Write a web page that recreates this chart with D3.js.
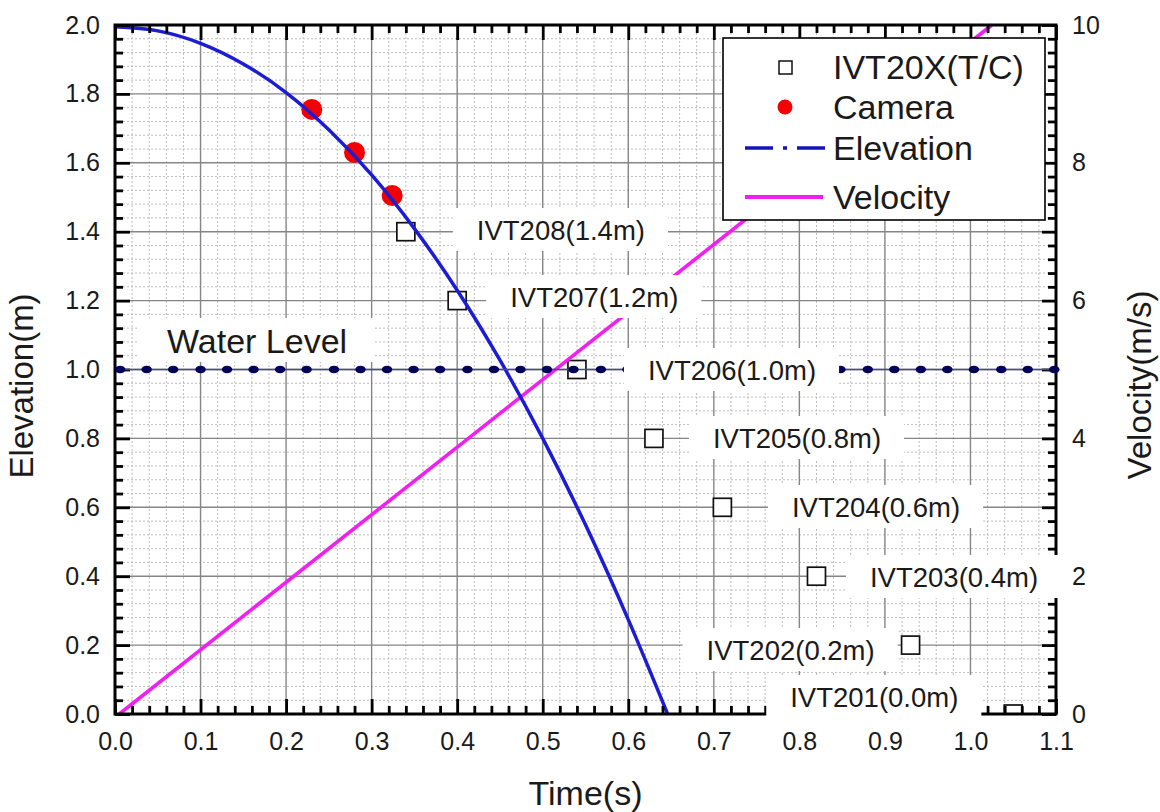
<!DOCTYPE html>
<html>
<head>
<meta charset="utf-8">
<script src="https://cdn.jsdelivr.net/npm/d3@7"></script>
<style>
  html, body { margin: 0; padding: 0; background: #fff; }
  svg { display: block; font-family: "Liberation Sans", Arial, sans-serif; }
</style>
</head>
<body>
<svg id="chart" width="1160" height="812"></svg>
<script>
// Thermocouple (T/C) arrival times and sensor elevations
const tcNames = ["IVT201", "IVT202", "IVT203", "IVT204", "IVT205", "IVT206", "IVT207", "IVT208"];
const tcTimes = [1.05, 0.93, 0.82, 0.71, 0.63, 0.54, 0.40, 0.34];
const tcElev  = [0.0, 0.2, 0.4, 0.6, 0.8, 1.0, 1.2, 1.4];

// Camera observations
const camTimes = [0.23, 0.28, 0.324];
const camElev  = [1.755, 1.63, 1.505];

// Elevation trajectory
const elevTimes  = [0, 0.05, 0.1, 0.15, 0.2, 0.25, 0.3, 0.35, 0.4, 0.45, 0.5, 0.55, 0.6, 0.646];
const elevValues = [1.995, 1.983, 1.947, 1.887, 1.804, 1.696, 1.565, 1.409, 1.230, 1.027, 0.800, 0.549, 0.274, 0.0];

// Velocity
const velTimes  = [0.005, 1.025];
const velValues = [0, 10];

// Water level samples
const waterLevel = 1.0;
const waterTimes = [0.006, 0.037, 0.068, 0.100, 0.131, 0.162, 0.193, 0.224, 0.256, 0.287, 0.318, 0.349,
                    0.380, 0.412, 0.443, 0.474, 0.505, 0.536, 0.568, 0.599, 0.630, 0.661, 0.692, 0.724,
                    0.755, 0.786, 0.817, 0.848, 0.880, 0.911, 0.942, 0.973, 1.004, 1.036, 1.067, 1.098];

// Axis ticks
const xTicks = [0, 0.1, 0.2, 0.3, 0.4, 0.5, 0.6, 0.7, 0.8, 0.9, 1.0, 1.1];
const yTicks = [0, 0.2, 0.4, 0.6, 0.8, 1.0, 1.2, 1.4, 1.6, 1.8, 2.0];
const vTicks = [0, 2, 4, 6, 8, 10];

const svg = d3.select("#chart");
const L = 115, R = 1056, T = 25, B = 714;

const x  = d3.scaleLinear().domain([0, 1.1]).range([L, R]);
const y  = d3.scaleLinear().domain([0, 2.0]).range([B, T]);
const yv = d3.scaleLinear().domain([0, 10]).range([B, T]);

const xMinor = d3.range(0, 1.1001, 0.02).filter(v => Math.abs(v * 10 - Math.round(v * 10)) > 1e-6);
const yMinor = d3.range(0, 2.0001, 0.04).filter(v => Math.abs(v * 5 - Math.round(v * 5)) > 1e-6);
const vMajor = d3.range(0, 10.001, 1);
const vMinor = d3.range(0, 10.001, 0.2).filter(v => Math.abs(v - Math.round(v)) > 1e-6);

svg.append("defs").append("clipPath").attr("id", "plotClip")
  .append("rect").attr("x", L).attr("y", T).attr("width", R - L).attr("height", B - T);

// grid
const grid = svg.append("g");
grid.selectAll(".gxm").data(xMinor).join("line")
  .attr("x1", d => x(d)).attr("x2", d => x(d)).attr("y1", T).attr("y2", B)
  .attr("stroke", "#bcbcbc").attr("stroke-width", 1).attr("stroke-dasharray", "2,2");
grid.selectAll(".gym").data(yMinor).join("line")
  .attr("y1", d => y(d)).attr("y2", d => y(d)).attr("x1", L).attr("x2", R)
  .attr("stroke", "#bcbcbc").attr("stroke-width", 1).attr("stroke-dasharray", "2,2");
grid.selectAll(".gx").data(xTicks.slice(1, -1)).join("line")
  .attr("x1", d => x(d)).attr("x2", d => x(d)).attr("y1", T).attr("y2", B)
  .attr("stroke", "#858585").attr("stroke-width", 1.4);
grid.selectAll(".gy").data(yTicks.slice(1, -1)).join("line")
  .attr("y1", d => y(d)).attr("y2", d => y(d)).attr("x1", L).attr("x2", R)
  .attr("stroke", "#858585").attr("stroke-width", 1.4);

// T/C squares
const tc = tcNames.map((n, i) => ({ name: n, t: tcTimes[i], e: tcElev[i] }));
svg.append("g").attr("clip-path", "url(#plotClip)")
  .selectAll("rect").data(tc).join("rect")
  .attr("x", d => x(d.t) - 9).attr("y", d => y(d.e) - 9)
  .attr("width", 18).attr("height", 18)
  .attr("fill", "#fff").attr("stroke", "#111").attr("stroke-width", 1.7);

// velocity line
const vel = velTimes.map((t, i) => [t, velValues[i]]);
svg.append("path").datum(vel)
  .attr("d", d3.line().x(d => x(d[0])).y(d => yv(d[1])))
  .attr("fill", "none").attr("stroke", "#f21ef2").attr("stroke-width", 3.6);

// camera points
const cam = camTimes.map((t, i) => [t, camElev[i]]);
svg.append("g").selectAll("circle").data(cam).join("circle")
  .attr("cx", d => x(d[0])).attr("cy", d => y(d[1])).attr("r", 10.5)
  .attr("fill", "#f40000");

// elevation trajectory
const elev = elevTimes.map((t, i) => [t, elevValues[i]]);
svg.append("path").datum(elev)
  .attr("d", d3.line().x(d => x(d[0])).y(d => y(d[1])).curve(d3.curveMonotoneX))
  .attr("fill", "none").attr("stroke", "#1c1cd4").attr("stroke-width", 3.5);

// frame
svg.append("rect").attr("x", L).attr("y", T).attr("width", R - L).attr("height", B - T)
  .attr("fill", "none").attr("stroke", "#000").attr("stroke-width", 3);

function styleAxis(g, size) {
  g.select(".domain").remove();
  g.selectAll(".tick line").attr("stroke", "#000").attr("stroke-width", 2.8);
  g.selectAll(".tick text").attr("fill", "#1a1a1a").attr("font-size", size)
    .attr("font-family", "'Liberation Sans', Arial, sans-serif");
}

// bottom axis
svg.append("g").attr("transform", `translate(0,${B})`)
  .call(d3.axisBottom(x).tickValues(xTicks).tickFormat(d3.format(".1f")).tickSizeInner(-15).tickSizeOuter(0).tickPadding(18))
  .call(g => styleAxis(g, 25));
svg.append("g").attr("transform", `translate(0,${B})`)
  .call(d3.axisBottom(x).tickValues(xMinor).tickFormat("").tickSizeInner(-8).tickSizeOuter(0))
  .call(g => styleAxis(g, 25));
// top axis
svg.append("g").attr("transform", `translate(0,${T})`)
  .call(d3.axisTop(x).tickValues(xTicks).tickFormat("").tickSizeInner(-15).tickSizeOuter(0))
  .call(g => styleAxis(g, 25));
svg.append("g").attr("transform", `translate(0,${T})`)
  .call(d3.axisTop(x).tickValues(xMinor).tickFormat("").tickSizeInner(-8).tickSizeOuter(0))
  .call(g => styleAxis(g, 25));
// left axis
svg.append("g").attr("transform", `translate(${L},0)`)
  .call(d3.axisLeft(y).tickValues(yTicks).tickFormat(d3.format(".1f")).tickSizeInner(-15).tickSizeOuter(0).tickPadding(15))
  .call(g => styleAxis(g, 25));
svg.append("g").attr("transform", `translate(${L},0)`)
  .call(d3.axisLeft(y).tickValues(yMinor).tickFormat("").tickSizeInner(-8).tickSizeOuter(0))
  .call(g => styleAxis(g, 25));
// right axis
svg.append("g").attr("transform", `translate(${R},0)`)
  .call(d3.axisRight(yv).tickValues(vMajor).tickFormat(d => vTicks.includes(d) ? d3.format("d")(d) : "").tickSizeInner(-14).tickSizeOuter(0).tickPadding(16))
  .call(g => styleAxis(g, 25));
svg.append("g").attr("transform", `translate(${R},0)`)
  .call(d3.axisRight(yv).tickValues(vMinor).tickFormat("").tickSizeInner(-8).tickSizeOuter(0))
  .call(g => styleAxis(g, 25));

// water level line with markers
const water = svg.append("g");
water.append("line")
  .attr("x1", x(waterTimes[0])).attr("x2", x(waterTimes[waterTimes.length - 1]))
  .attr("y1", y(waterLevel)).attr("y2", y(waterLevel))
  .attr("stroke", "#4a4a86").attr("stroke-width", 1.5);
water.selectAll("ellipse").data(waterTimes).join("ellipse")
  .attr("cx", d => x(d)).attr("cy", y(waterLevel)).attr("rx", 5.2).attr("ry", 3.8)
  .attr("fill", "#00005e");

// axis titles
svg.append("text").attr("x", (L + R) / 2).attr("y", 805).attr("text-anchor", "middle")
  .attr("font-size", 34).attr("fill", "#1a1a1a").text("Time(s)");
svg.append("text").attr("transform", "translate(33,386) rotate(-90)").attr("text-anchor", "middle")
  .attr("font-size", 33).attr("fill", "#1a1a1a").text("Elevation(m)");
svg.append("text").attr("transform", "translate(1151,385) rotate(-90)").attr("text-anchor", "middle")
  .attr("font-size", 33).attr("fill", "#1a1a1a").text("Velocity(m/s)");

// legend
const lg = svg.append("g");
lg.append("rect").attr("x", 723).attr("y", 38).attr("width", 322).attr("height", 182)
  .attr("fill", "#fff").attr("stroke", "#000").attr("stroke-width", 1.6);
lg.append("rect").attr("x", 779).attr("y", 61).attr("width", 13).attr("height", 13)
  .attr("fill", "#fff").attr("stroke", "#111").attr("stroke-width", 1.5);
lg.append("circle").attr("cx", 785).attr("cy", 107).attr("r", 7.5).attr("fill", "#f40000");
lg.append("line").attr("x1", 745).attr("x2", 825).attr("y1", 148).attr("y2", 148)
  .attr("stroke", "#1414b8").attr("stroke-width", 3.5).attr("stroke-dasharray", "28,10,4,10");
lg.append("line").attr("x1", 745).attr("x2", 823).attr("y1", 197).attr("y2", 197)
  .attr("stroke", "#f21ef2").attr("stroke-width", 4);
const legendItems = ["IVT20X(T/C)", "Camera", "Elevation", "Velocity"];
const legendBase = [79, 119, 160, 209];
lg.selectAll("text.li").data(legendItems).join("text")
  .attr("x", 833).attr("y", (d, i) => legendBase[i])
  .attr("font-size", 34).attr("fill", "#1a1a1a").text(d => d);

// labels with white backgrounds
function boxedLabel(tx, ty, str, size, padX, padTop, padBot) {
  const g = svg.append("g");
  const bg = g.append("rect").attr("fill", "#fff");
  const t = g.append("text").attr("x", tx).attr("y", ty).attr("font-size", size)
    .attr("fill", "#1a1a1a").text(str);
  const bb = t.node().getBBox();
  bg.attr("x", bb.x - padX[0]).attr("y", bb.y - padTop)
    .attr("width", bb.width + padX[0] + padX[1]).attr("height", bb.height + padTop + padBot);
}

// label placement relative to each square: [dx, dy] to text start / baseline
const labelOffsets = [[-223, -7], [-204, 15], [53.5, 10.8], [69.6, 9.7], [59, 9.6], [71, 10.5], [53, 6.4], [71, 8.3]];
tc.forEach((d, i) => {
  boxedLabel(x(d.t) + labelOffsets[i][0], y(d.e) + labelOffsets[i][1],
    `${d.name}(${d3.format(".1f")(d.e)}m)`, 27.5, [24, 23], 7, 5);
});
boxedLabel(167, 353, "Water Level", 34, [30, 26], 4, 2);
</script>
</body>
</html>
